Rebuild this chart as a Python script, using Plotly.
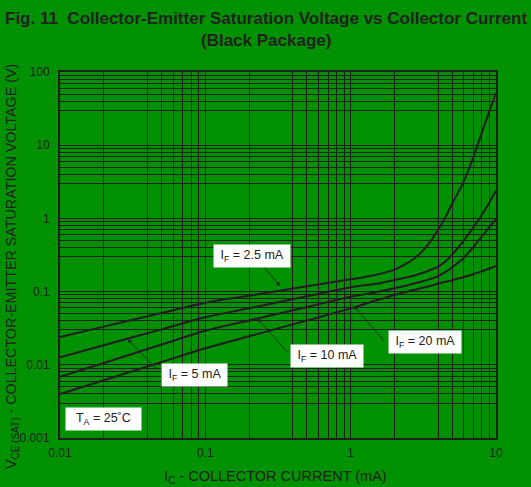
import plotly.graph_objects as go

# ---- data ----
ic_ma = [0.01, 0.02, 0.05, 0.1, 0.2, 0.5, 1, 1.5, 2, 2.5, 3, 3.5, 4, 4.5, 5, 6, 7, 8, 9, 10]
vce_if_2p5 = [0.024, 0.0332, 0.051, 0.0705, 0.088, 0.118, 0.147, 0.17, 0.20, 0.25, 0.33, 0.47, 0.70, 1.05, 1.6, 3.2, 7.0, 15, 29, 52]
vce_if_5 = [0.01265, 0.0185, 0.0305, 0.0446, 0.0592, 0.0862, 0.1145, 0.128, 0.144, 0.158, 0.175, 0.196, 0.22, 0.26, 0.32, 0.50, 0.76, 1.12, 1.65, 2.4]
vce_if_10 = [0.00687, 0.0106, 0.0189, 0.0292, 0.0403, 0.0616, 0.085, 0.098, 0.111, 0.123, 0.135, 0.148, 0.163, 0.186, 0.215, 0.29, 0.41, 0.57, 0.76, 0.98]
vce_if_20 = [0.00399, 0.00615, 0.0109, 0.0168, 0.0245, 0.0404, 0.059, 0.076, 0.090, 0.101, 0.11, 0.119, 0.128, 0.136, 0.143, 0.158, 0.173, 0.19, 0.207, 0.224]
series_names = ["I<sub>F</sub> = 2.5 mA", "I<sub>F</sub> = 5 mA", "I<sub>F</sub> = 10 mA", "I<sub>F</sub> = 20 mA"]

x_tick_vals = [0.01, 0.1, 1, 10]
x_tick_text = ["0.01", "0.1", "1", "10"]
y_tick_vals = [0.001, 0.01, 0.1, 1, 10, 100]
y_tick_text = ["0.001", "0.01", "0.1", "1", "10", "100"]
x_minor_mult = [2, 4, 5, 6, 7, 8, 9]
y_minor_mult = [3, 4, 5, 6, 7, 8, 9]

GREEN = "rgb(0,145,0)"
INK = "#251c24"
GRID = "#231f20"
TEXT = "#222222"
FONT = "Liberation Sans, Arial, sans-serif"

x_minor = [m * d for d in [0.01, 0.1, 1] for m in x_minor_mult]
y_minor = [m * d for d in [0.001, 0.01, 0.1, 1, 10] for m in y_minor_mult]

fig = go.Figure()
for name, ys in zip(series_names, [vce_if_2p5, vce_if_5, vce_if_10, vce_if_20]):
    fig.add_trace(go.Scatter(x=ic_ma, y=ys, mode="lines", name=name,
                             line=dict(color=INK, width=2, shape="spline", smoothing=1),
                             showlegend=False, hoverinfo="skip"))

fig.update_layout(
    width=531, height=487,
    paper_bgcolor=GREEN, plot_bgcolor=GREEN,
    margin=dict(l=60, r=35, t=72, b=49, autoexpand=False),
    font=dict(family=FONT, color=TEXT, size=12),
)

fig.update_xaxes(type="log", range=[-2, 1], tickvals=x_tick_vals, ticktext=x_tick_text,
                 showgrid=True, gridcolor=GRID, gridwidth=1,
                 minor=dict(tickvals=x_minor, showgrid=True, gridcolor=GRID, gridwidth=1, ticks=""),
                 showline=True, linecolor=GRID, linewidth=2, mirror=True,
                 ticks="outside", ticklen=3, tickcolor=GREEN,
                 tickfont=dict(size=12, color=TEXT), zeroline=False, automargin=False)
fig.update_yaxes(type="log", range=[-3, 2], tickvals=y_tick_vals, ticktext=y_tick_text,
                 showgrid=True, gridcolor=GRID, gridwidth=1,
                 minor=dict(tickvals=y_minor, showgrid=True, gridcolor=GRID, gridwidth=1, ticks=""),
                 showline=True, linecolor=GRID, linewidth=2, mirror=True,
                 ticks="outside", ticklen=6, tickcolor=GREEN,
                 tickfont=dict(size=12, color=TEXT), zeroline=False, automargin=False)

# titles
fig.add_annotation(text="<b>Fig. 11  Collector-Emitter Saturation Voltage vs Collector Current</b>",
                   xref="paper", yref="paper", x=0.4736, y=1.1475, xanchor="center", yanchor="middle",
                   showarrow=False, font=dict(size=17.0, color=TEXT))
fig.add_annotation(text="<b>(Black Package)</b>",
                   xref="paper", yref="paper", x=0.472, y=1.0874, xanchor="center", yanchor="middle",
                   showarrow=False, font=dict(size=17.0, color=TEXT))
fig.add_annotation(text="I<sub>C</sub> - COLLECTOR CURRENT (mA)",
                   xref="paper", yref="paper", x=0.4954, y=-0.107, xanchor="center", yanchor="middle",
                   showarrow=False, font=dict(size=14.5, color=TEXT))
fig.add_annotation(text="V<sub>CE (SAT)</sub> - COLLECTOR-EMITTER SATURATION VOLTAGE (V)",
                   xref="paper", yref="paper", x=-0.110, y=0.467, xanchor="center", yanchor="middle",
                   textangle=-90, showarrow=False, font=dict(size=14.3, color=TEXT))

# arrows: tip on the curve, tail toward label (pixel offsets)
arrows = [(-0.486, -0.923, -18, -21), (-1.534, -1.652, 31, 32), (-0.642, -1.365, 31, 35), (0.023, -1.197, 31, 36)]
for (xa, ya, ax, ay) in arrows:
    fig.add_annotation(x=xa, y=ya, xref="x", yref="y", text="", showarrow=True,
                       ax=ax, ay=ay, arrowhead=2, arrowsize=1, arrowwidth=0.8, arrowcolor=INK)

labels = [(-0.679, -0.514, series_names[0]), (-1.078, -2.139, series_names[1]),
          (-0.162, -1.873, series_names[2]), (0.509, -1.695, series_names[3]),
          (-1.704, -2.74, "T<sub>A</sub> = 25˚C")]
for i, (xl, yl, txt) in enumerate(labels):
    pad = "&nbsp;&nbsp;" if i == 4 else "&nbsp;"
    fig.add_annotation(x=xl, y=yl, xref="x", yref="y", text=pad + txt + pad, showarrow=False,
                       bgcolor="white", borderpad=3, font=dict(size=12.5, color=TEXT))

fig.write_html("out.html", config={"displayModeBar": False},
               post_script="document.body.style.margin='0';document.body.style.padding='0';document.body.style.background='rgb(0,145,0)';")
